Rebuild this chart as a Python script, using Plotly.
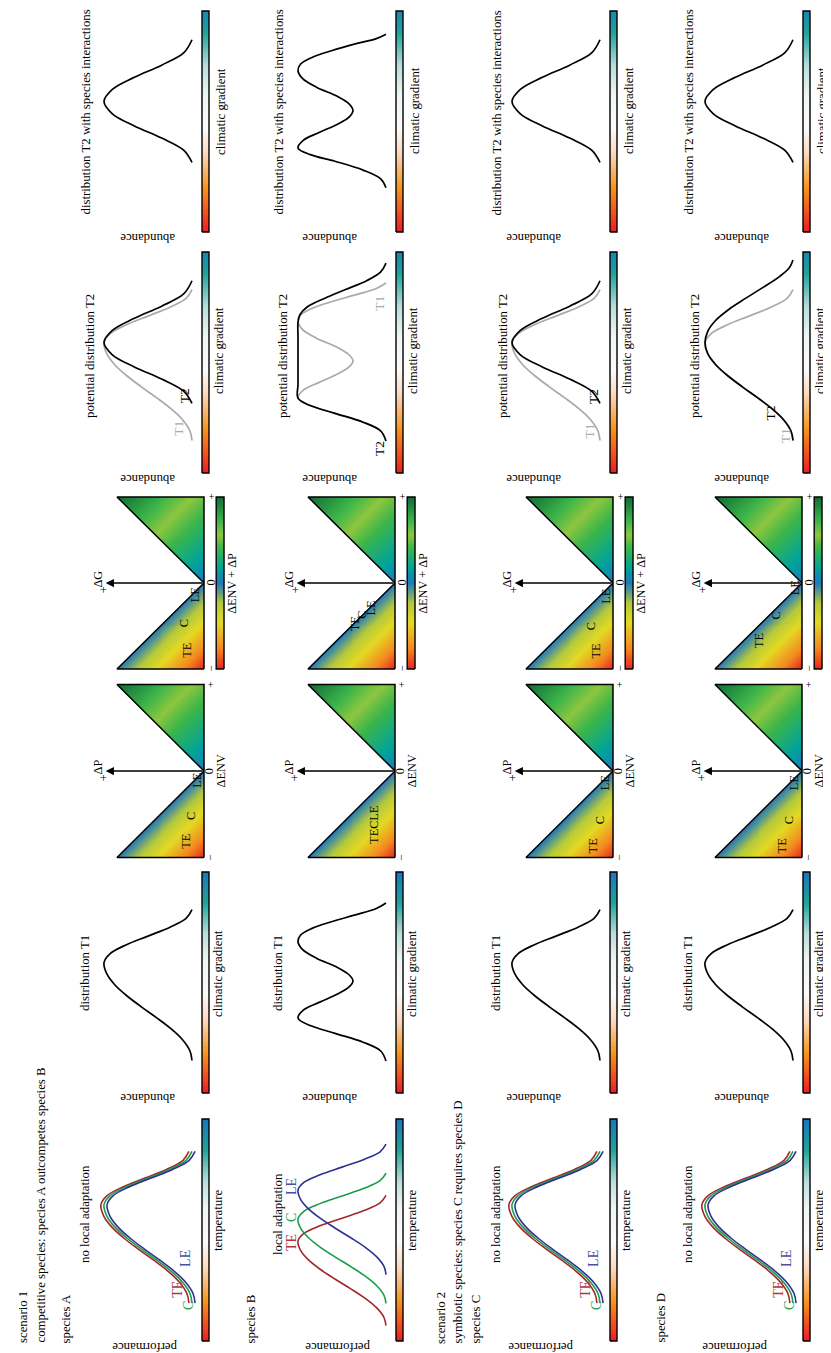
import numpy as np
import plotly.graph_objects as go

W, H = 831, 1353
FONT = "Liberation Serif"
FS = 12.8      # main text size
FS_AX = 12.3   # axis labels in triangle panels

# ---------------- data ----------------
species = ["species A", "species B", "species C", "species D"]
perf_titles = ["no local adaptation", "local adaptation", "no local adaptation", "no local adaptation"]
ecotypes = ["TE", "C", "LE"]

# skewed bell (performance curves and distribution T1), position relative to the peak
skew_dt = [-0.443, -0.40, -0.35, -0.30, -0.25, -0.20, -0.15, -0.10, -0.05, 0.0, 0.04, 0.08, 0.12, 0.16, 0.20, 0.24]
skew_v = [0.0, 0.023, 0.105, 0.236, 0.40, 0.576, 0.741, 0.878, 0.969, 1.0, 0.933, 0.75, 0.50, 0.25, 0.067, 0.0]

# narrower symmetric bell (distribution T2)
sym_dt = [-0.275, -0.22, -0.165, -0.11, -0.055, 0.0, 0.055, 0.11, 0.165, 0.22, 0.28]
sym_v = [0.0, 0.095, 0.345, 0.655, 0.905, 1.0, 0.905, 0.655, 0.345, 0.095, 0.0]

peak_noLA = 0.614                 # temperature of peak performance, no local adaptation
eco_perf_shift = [0.035, 0.0, -0.035]   # TE, C, LE
peak_LA = [0.45, 0.55, 0.68]      # TE, C, LE peaks with local adaptation
width_LA = 0.86
peak_T1 = 0.59
peak_T2 = 0.59

bimodal_T1_t = [0.145, 0.19, 0.23, 0.27, 0.305, 0.339, 0.375, 0.41, 0.45, 0.48, 0.507, 0.535, 0.57, 0.61, 0.65, 0.685, 0.715, 0.745, 0.775, 0.805, 0.835, 0.86]
bimodal_T1_v = [0.0, 0.06, 0.26, 0.58, 0.86, 1.0, 0.94, 0.76, 0.54, 0.42, 0.375, 0.42, 0.56, 0.79, 0.95, 1.0, 0.97, 0.84, 0.62, 0.36, 0.11, 0.0]

plateau_T2_t = [0.145, 0.19, 0.23, 0.27, 0.305, 0.339, 0.40, 0.47, 0.54, 0.61, 0.68, 0.715, 0.75, 0.79, 0.83, 0.87, 0.91, 0.95]
plateau_T2_v = [0.0, 0.06, 0.26, 0.58, 0.86, 1.0, 1.0, 1.0, 1.0, 1.0, 1.0, 0.98, 0.90, 0.70, 0.46, 0.22, 0.06, 0.0]

wide_T2_t = [0.147, 0.19, 0.24, 0.29, 0.34, 0.39, 0.44, 0.49, 0.54, 0.59, 0.64, 0.69, 0.74, 0.79, 0.84, 0.89, 0.93, 0.964]
wide_T2_v = [0.0, 0.023, 0.105, 0.236, 0.40, 0.576, 0.741, 0.878, 0.969, 1.0, 0.97, 0.88, 0.73, 0.54, 0.34, 0.15, 0.04, 0.0]

bimodal_T2_t = [0.20, 0.24, 0.28, 0.32, 0.35, 0.38, 0.415, 0.45, 0.49, 0.52, 0.55, 0.58, 0.615, 0.655, 0.695, 0.73, 0.76, 0.79, 0.82, 0.85, 0.875, 0.895]
bimodal_T2_v = [0.0, 0.06, 0.26, 0.58, 0.86, 1.0, 0.94, 0.76, 0.54, 0.42, 0.375, 0.42, 0.56, 0.79, 0.95, 1.0, 0.97, 0.84, 0.62, 0.36, 0.11, 0.0]

# label positions in panel units (value, temperature)
perf_eco_labels = [(0.16, 0.235), (0.034, 0.158), (0.068, 0.37)]
dP_labels = [
    [("TE", 0.21, -0.81), ("C", 0.15, -0.52), ("LE", 0.09, -0.11)],
    [("TECLE", 0.25, -0.62)],
    [("TE", 0.23, -0.86), ("C", 0.15, -0.57), ("LE", 0.09, -0.14)],
    [("TE", 0.23, -0.86), ("C", 0.15, -0.57), ("LE", 0.09, -0.14)],
]
dG_labels = [
    [("TE", 0.20, -0.78), ("C", 0.22, -0.47), ("LE", 0.10, -0.14)],
    [("TE", 0.45, -0.47), ("C", 0.38, -0.37), ("LE", 0.28, -0.29)],
    [("TE", 0.20, -0.79), ("C", 0.25, -0.50), ("LE", 0.08, -0.16)],
    [("TE", 0.50, -0.67), ("C", 0.30, -0.38), ("LE", 0.08, -0.06)],
]
t2_labels = [
    [("T2", 0.09, 0.348), ("T1", 0.15, 0.204)],
    [("T2", 0.08, 0.113), ("T1", 0.07, 0.77)],
    [("T2", 0.08, 0.348), ("T1", 0.12, 0.19)],
    [("T2", 0.26, 0.27), ("T1", 0.09, 0.167)],
]

# ---------------- styling / layout constants (pixels) ----------------
XB = [194, 388, 602, 795]      # left edge of the gradient bars for each species row
TB = [196, 387, 605, 794]      # baseline of the triangle panels
PERF_Y = (1333, 1111)
T1_Y = (1085, 864)
T2P_Y = (465, 244)
T2I_Y = (224, 3)
DP_Y0, DP_U = 763, 86.5
DG_Y0, DG_U = 575, 86.0

RED, GREEN, BLUE = "#a3262b", "#1b9c4a", "#2e3192"
LAB_COL = {"TE": "#b0373a", "C": "#25a34d", "LE": "#4b4f9f"}
GREY = "#aaaaaa"

grad_T1 = [[0, "#ec1c24"], [0.18, "#f7941d"], [0.33, "#fcd9c0"], [0.45, "#fbfbfb"],
           [0.6, "#eef5f4"], [0.72, "#b9dedb"], [0.86, "#1fa39b"], [1.0, "#1c75bc"]]
grad_T2 = [[0, "#ec1c24"], [0.2, "#f7941d"], [0.36, "#fcd9c0"], [0.47, "#fbfbfb"],
           [0.62, "#eef5f4"], [0.75, "#b9dedb"], [0.9, "#1fa39b"], [1.0, "#1a86b0"]]
tri_scale = [[0, "#e52521"], [0.12, "#f4891f"], [0.27, "#e3d923"], [0.38, "#b5c93a"],
             [0.5, "#1f78be"], [0.58, "#00a39b"], [0.7, "#3ab54a"], [0.78, "#8dc63f"],
             [0.86, "#3db54a"], [1.0, "#0d6b36"]]

fig = go.Figure()
annotations = []
axes = {}
n_ax = [0]


def new_axes(xv0, xp0, xv1, xp1, yv0, yp0, yv1, yp1, xd, yd):
    n_ax[0] += 1
    n = n_ax[0]
    xd = (max(0, xd[0]), min(W, xd[1]))
    yd = (max(0, yd[0]), min(H, yd[1]))
    fx = lambda p: xv0 + (p - xp0) * (xv1 - xv0) / (xp1 - xp0)
    fy = lambda p: yv0 + (p - yp0) * (yv1 - yv0) / (yp1 - yp0)
    s = "" if n == 1 else str(n)
    xr, yr = "x" + s, "y" + s
    axes["xaxis" + s] = dict(domain=[xd[0] / W, xd[1] / W], range=[fx(xd[0]), fx(xd[1])],
                             visible=False, fixedrange=True, anchor=yr)
    axes["yaxis" + s] = dict(domain=[1 - yd[1] / H, 1 - yd[0] / H], range=[fy(yd[1]), fy(yd[0])],
                             visible=False, fixedrange=True, anchor=xr)
    return xr, yr, fx


def text(s, x, y, xref="paper", yref="paper", angle=-90, size=FS, color="black",
         xanchor="center", yanchor="middle"):
    if xref == "paper":
        x = x / W
    if yref == "paper":
        y = 1 - y / H
    annotations.append(dict(text=s, x=x, y=y, xref=xref, yref=yref, textangle=angle,
                            showarrow=False, xanchor=xanchor, yanchor=yanchor, borderpad=0,
                            font=dict(family=FONT, size=size, color=color)))


def curve(xr, yr, t, v, color, width=1.7):
    fig.add_trace(go.Scatter(x=list(v), y=list(t), mode="lines",
                             line=dict(color=color, width=width, shape="spline", smoothing=1.0),
                             xaxis=xr, yaxis=yr, hoverinfo="skip", showlegend=False))


def rect_outline(xr, yr, x0, x1, y0, y1, width=1.4):
    fig.add_trace(go.Scatter(x=[x0, x1, x1, x0, x0], y=[y0, y0, y1, y1, y0], mode="lines",
                             line=dict(color="black", width=width), xaxis=xr, yaxis=yr,
                             hoverinfo="skip", showlegend=False))


def gradient_bar(xr, yr, x0, x1, y0, y1, cscale):
    ys = np.linspace(y0, y1, 161)
    zc = (((ys[:-1] + ys[1:]) / 2 - y0) / (y1 - y0)).round(4)
    fig.add_trace(go.Heatmap(x=[min(x0, x1), max(x0, x1)], y=ys.round(4).tolist(),
                             z=[[float(z)] for z in zc], colorscale=cscale, zmin=0, zmax=1,
                             showscale=False, xaxis=xr, yaxis=yr, hoverinfo="skip"))
    rect_outline(xr, yr, x0, x1, y0, y1)


def curve_panel(r, ypx):
    xb = XB[r]
    return new_axes(0, xb - 10, 1, xb - 98, 0, ypx[0], 1, ypx[1],
                    (xb - 125, xb + 12), (ypx[1] - 4, ypx[0] + 4))


def shape_at(peak, dt, v, width=1.0, vshift=0.0):
    return [peak + d * width for d in dt], [val + vshift for val in v]


# triangle fill grid (colour by dENV + dP)
nx, ny = 88, 174
gx = np.linspace(0, 1, nx + 1)
gy = np.linspace(-1, 1, ny + 1)
cx = (gx[:-1] + gx[1:]) / 2
cy = (gy[:-1] + gy[1:]) / 2
PP, EE = np.meshgrid(cx, cy)
wv = np.where(EE < 0, EE + PP, (EE + PP) / 2)
mask = PP <= np.abs(EE) + 0.004
tri_z = [[(float(round(wv[j, i], 3)) if mask[j, i] else None) for i in range(nx)] for j in range(ny)]


def triangle_panel(r, y0, unit, kind):
    tb = TB[r]
    xr, yr, fx = new_axes(0, tb, 1, tb - 87, 0, y0, 1, y0 - unit, (tb - 125, tb + 40),
                          (y0 - unit * 1.12, y0 + unit * 1.12))
    fig.add_trace(go.Heatmap(x=gx.tolist(), y=gy.tolist(), z=tri_z, colorscale=tri_scale,
                             zmin=-1, zmax=1, showscale=False, xaxis=xr, yaxis=yr,
                             hoverinfo="skip", zsmooth=False))
    for px_, py_ in [([0, 0, 1, 0], [-1, 0, -1, -1]), ([0, 0, 1, 0], [0, 1, 1, 0])]:
        fig.add_trace(go.Scatter(x=px_, y=py_, mode="lines", line=dict(color="black", width=1.5),
                                 xaxis=xr, yaxis=yr, hoverinfo="skip", showlegend=False))
    annotations.append(dict(x=1.13, y=0, ax=0, ay=0, xref=xr, yref=yr, axref=xr, ayref=yr,
                            showarrow=True, arrowhead=2, arrowsize=1.1, arrowwidth=1.5,
                            arrowcolor="black", text="", standoff=0))
    name = "ΔP" if kind == "P" else "ΔG"
    text(name, 1.22, 0.05, xr, yr, size=FS_AX)
    text("+", 1.145, -0.08, xr, yr, size=FS_AX)
    tick_x = -0.06 if kind == "P" else -0.075
    text("−", tick_x, -1.0, xr, yr, size=11)
    text("0", tick_x, 0.0, xr, yr, size=FS_AX)
    text("+", tick_x, 1.0, xr, yr, size=11)
    if kind == "P":
        text("ΔENV", -0.2, 0.0, xr, yr, size=FS_AX)
        labs = dP_labels[r]
    else:
        ys = np.linspace(-1, 1, 161)
        zc = ((ys[:-1] + ys[1:]) / 2).round(4)
        fig.add_trace(go.Heatmap(x=[-0.23, -0.14], y=ys.round(4).tolist(),
                                 z=[[float(z)] for z in zc], colorscale=tri_scale, zmin=-1, zmax=1,
                                 showscale=False, xaxis=xr, yaxis=yr, hoverinfo="skip"))
        rect_outline(xr, yr, -0.23, -0.14, -1, 1)
        if r < 3:
            text("ΔENV + ΔP", -0.32, 0.0, xr, yr, size=FS_AX)
        else:
            text("ΔENV + ΔP", -0.29, 0.0, xr, yr, size=11.5)
        labs = dG_labels[r]
    for s, lx, ly in labs:
        text(s, lx, ly, xr, yr, size=FS_AX)


# ---------------- build panels ----------------
title_x = [77, 270, 488, 680]
t2p_title_x = [82, 275, 495, 687]
perf_lab_x = [137, 330, 533, 727]
abund_lab_x = [140, 322, 526, 734]

for r in range(4):
    xb = XB[r]
    # --- performance ---
    xr, yr, fx = curve_panel(r, PERF_Y)
    gradient_bar(xr, yr, fx(xb), fx(xb + 7), 0, 1, grad_T1)
    cols = [RED, GREEN, BLUE]
    if r == 1:
        for k in range(3):
            t, v = shape_at(peak_LA[k], skew_dt, skew_v, width=width_LA)
            curve(xr, yr, t, v, cols[k], 1.6)
    else:
        for k in range(3):
            t, v = shape_at(peak_noLA, skew_dt, skew_v, vshift=eco_perf_shift[k])
            curve(xr, yr, t, v, cols[k], 1.6)
        for k, (lx, ly) in enumerate(perf_eco_labels):
            text(ecotypes[k], lx, ly, xr, yr, size=14, color=LAB_COL[ecotypes[k]])
    text("temperature", xb + 16, 1213)
    text("performance", perf_lab_x[r], 1339, angle=180)
    text(perf_titles[r], title_x[r], 1206)

    # --- distribution T1 ---
    xr, yr, fx = curve_panel(r, T1_Y)
    gradient_bar(xr, yr, fx(xb), fx(xb + 7), 0, 1, grad_T1)
    if r == 1:
        curve(xr, yr, bimodal_T1_t, bimodal_T1_v, "black")
    else:
        t, v = shape_at(peak_T1, skew_dt, skew_v)
        curve(xr, yr, t, v, "black")
    text("climatic gradient", xb + 16, 966)
    text("abundance", abund_lab_x[r], 1090, angle=180)
    text("distribution T1", title_x[r], 965)

    # --- triangles ---
    triangle_panel(r, DP_Y0, DP_U, "P")
    triangle_panel(r, DG_Y0, DG_U, "G")

    # --- potential distribution T2 ---
    xr, yr, fx = curve_panel(r, T2P_Y)
    gradient_bar(xr, yr, fx(xb), fx(xb + 7), 0, 1, grad_T2)
    if r == 1:
        curve(xr, yr, bimodal_T1_t, bimodal_T1_v, GREY)
        curve(xr, yr, plateau_T2_t, plateau_T2_v, "black")
    elif r == 3:
        t, v = shape_at(peak_T1, skew_dt, skew_v)
        curve(xr, yr, t, v, GREY)
        curve(xr, yr, wide_T2_t, wide_T2_v, "black")
    else:
        t, v = shape_at(peak_T1, skew_dt, skew_v)
        curve(xr, yr, t, v, GREY)
        t, v = shape_at(peak_T2, sym_dt, sym_v)
        curve(xr, yr, t, v, "black")
    for s, lx, ly in t2_labels[r]:
        text(s, lx, ly, xr, yr, size=13.5, color=("black" if s == "T2" else GREY))
    text("climatic gradient", xb + 17, 343)
    text("abundance", abund_lab_x[r], 471, angle=180)
    text("potential distribution T2", t2p_title_x[r], 348)

    # --- distribution T2 with species interactions ---
    xr, yr, fx = curve_panel(r, T2I_Y)
    gradient_bar(xr, yr, fx(xb), fx(xb + 7), 0, 1, grad_T2)
    if r == 1:
        curve(xr, yr, bimodal_T2_t, bimodal_T2_v, "black")
    else:
        t, v = shape_at(peak_T2, sym_dt, sym_v)
        curve(xr, yr, t, v, "black")
    text("climatic gradient", xb + 19, 103)
    text("abundance", abund_lab_x[r], 230, angle=180)
    text("distribution T2 with species interactions", title_x[r], 208, yanchor="bottom")

# row B ecotype labels
text("TE", 283, 1235, color=LAB_COL["TE"], size=14)
text("C", 283, 1210, color=LAB_COL["C"], size=14)
text("LE", 283, 1179, color=LAB_COL["LE"], size=14)

# headings
text("scenario 1", 15, 1336, yanchor="bottom")
text("competitive species: species A outcompetes species B", 32, 1336, yanchor="bottom")
text(species[0], 57, 1337, yanchor="bottom")
text(species[1], 242, 1337, yanchor="bottom")
text("scenario 2", 433, 1337, yanchor="bottom")
text("symbiotic species: species C requires species D", 449, 1337, yanchor="bottom")
text(species[2], 467, 1337, yanchor="bottom")
text(species[3], 652, 1336, yanchor="bottom")

fig.update_layout(width=W, height=H, margin=dict(l=0, r=0, t=0, b=0),
                  paper_bgcolor="white", plot_bgcolor="rgba(0,0,0,0)",
                  showlegend=False, annotations=annotations, **axes)
fig.write_html("out.html")
